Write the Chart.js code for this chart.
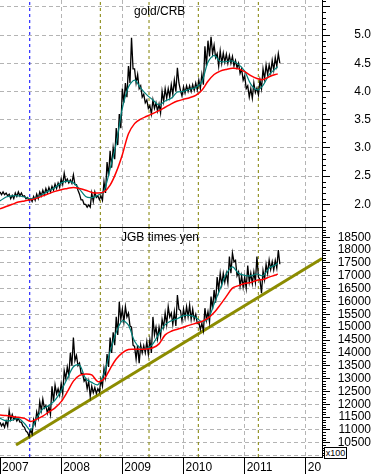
<!DOCTYPE html>
<html><head><meta charset="utf-8">
<script src="https://cdn.jsdelivr.net/npm/chart.js@4.4.1/dist/chart.umd.min.js"></script>
<style>
html,body{margin:0;padding:0;background:#fff;}
#wrap{position:relative;width:371px;height:474px;overflow:hidden;font-family:"Liberation Sans",Arial,sans-serif;}
canvas{position:absolute;left:0;}
#c1{top:0;}
#c2{top:228px;}
.title{position:absolute;font-size:12px;line-height:14px;color:#000;white-space:nowrap;}
#x100{position:absolute;left:324px;top:447px;width:21px;height:10px;border:1px solid #000;font-size:9px;line-height:10px;background:#fff;text-align:center;color:#000;}
</style></head>
<body><div id="wrap">
<canvas id="c1" width="371" height="228"></canvas>
<canvas id="c2" width="371" height="246"></canvas>
<div class="title" style="left:134px;top:4px;">gold/CRB</div>
<div class="title" style="left:121px;top:230px;">JGB times yen</div>
<div id="x100">x100</div>
</div>
<script>
// ---- data ----
const yearLabels = ['2007','2008','2009','2010','2011','20'];
const markerDates = [2007.486, 2008.640, 2009.436, 2010.242, 2011.223];
const markerColors = ['#0000ff','#808000','#808000','#808000','#808000'];

const rawStart = 2007.0, rawStep = 0.05;   // sampling of the price line (years)
const goldHi = [2.22,2.22,2.20,2.18,2.16,2.20,2.22,2.20,2.15,2.12,
 2.10,2.14,2.18,2.22,2.25,2.28,2.30,2.32,2.36,2.38,
 2.45,2.55,2.45,2.43,2.52,2.35,2.18,2.08,2.00,1.99,
 2.20,2.22,2.15,2.15,2.40,2.75,2.95,3.00,3.35,3.60,
 4.05,4.15,4.45,4.95,4.40,4.30,4.10,3.95,3.85,3.75,
 3.85,3.80,3.78,4.00,4.05,4.05,4.12,4.20,4.42,4.02,
 4.08,4.10,4.10,4.12,4.15,4.20,4.30,4.80,4.90,4.97,
 4.82,4.67,4.72,4.68,4.66,4.64,4.62,4.55,4.50,4.40,
 4.28,4.10,4.05,4.15,4.06,4.20,4.40,4.47,4.47,4.55,
 4.60,4.67];
const goldLo = [2.17,2.17,2.15,2.10,2.10,2.14,2.15,2.14,2.10,2.07,
 2.05,2.07,2.10,2.15,2.17,2.20,2.22,2.25,2.28,2.30,
 2.35,2.40,2.38,2.37,2.35,2.25,2.08,2.00,1.95,1.95,
 2.05,2.12,2.08,2.07,2.20,2.50,2.65,2.80,3.05,3.35,
 3.80,3.90,4.15,4.40,4.15,4.05,3.90,3.80,3.70,3.60,
 3.70,3.65,3.62,3.82,3.88,3.90,3.95,4.00,4.15,3.92,
 3.97,4.00,4.00,4.02,4.03,4.05,4.12,4.45,4.62,4.67,
 4.60,4.45,4.50,4.52,4.50,4.50,4.45,4.42,4.32,4.20,
 4.05,3.90,3.88,3.98,3.94,4.05,4.22,4.30,4.33,4.38,
 4.45,4.50];
const jgbHi = [11300,11250,11350,11750,11600,11500,11450,11300,11100,10900,
 11000,11400,11700,12100,12200,11950,11900,12700,12750,12600,
 12800,13300,13450,14000,14600,13900,13600,13200,13000,12900,
 12700,12650,12600,12950,13400,13950,14600,14800,15400,15990,
 15700,15800,15550,15000,14250,14300,14300,14280,14430,14500,
 15400,15000,15000,15300,15550,15800,15550,15600,16250,15650,
 15700,15800,15860,15700,15500,15200,15150,15740,15600,16190,
 16450,16950,17100,17100,17100,17750,17880,17600,17150,17000,
 16950,17400,17100,17150,17750,16850,17200,17450,17620,17550,
 17600,18000];
const jgbLo = [11150,11100,11150,11400,11400,11350,11300,11150,10950,10750,
 10850,11200,11450,11750,11850,11650,11600,12100,12400,12350,
 12400,13000,13100,13500,13700,13500,13200,12900,12600,12300,
 12450,12420,12480,12700,13050,13450,14000,14300,14700,15300,
 15200,15400,15050,14300,13750,13600,14000,14000,13950,14000,
 14700,14550,14650,15000,15100,15400,15100,15050,15700,15250,
 15350,15400,15300,15300,15150,14900,14860,15280,15200,15700,
 15950,16450,16650,16750,16720,17100,17550,17000,16600,16550,
 16520,16750,16700,16750,16950,16320,16850,17100,17250,17230,
 17300,17450];

const maStep = 0.1, maEnd = 2011.54;       // moving averages sampled every 0.1 yr, plus last point
const goldMAshort = [2.06,2.13,2.15,2.15,2.13,2.10,2.12,2.18,2.24,2.30,
 2.38,2.41,2.38,2.27,2.14,2.12,2.16,2.24,2.63,3.08,
 3.70,4.08,4.20,4.06,3.94,3.85,3.76,3.83,3.88,3.99,
 4.00,4.04,4.07,4.17,4.52,4.64,4.53,4.53,4.54,4.48,
 4.36,4.13,4.03,4.11,4.30,4.40,4.44];
const goldMAlong = [1.92,1.96,2.00,2.04,2.06,2.08,2.11,2.15,2.19,2.23,
 2.26,2.28,2.30,2.28,2.25,2.21,2.20,2.22,2.34,2.57,
 2.88,3.25,3.43,3.51,3.56,3.61,3.66,3.72,3.78,3.83,
 3.86,3.89,3.93,4.02,4.18,4.30,4.36,4.39,4.41,4.40,
 4.35,4.28,4.23,4.21,4.26,4.30,4.31];
const jgbMAshort = [11450,11350,11380,11450,11250,11000,11450,11820,11950,12160,
 12530,13000,13460,13530,13000,12850,12760,13200,14050,14800,
 15250,15080,14450,14180,14170,14350,14750,15100,15250,15330,
 15450,15460,15380,15210,15320,15900,16500,17070,17350,17100,
 17020,17000,17070,17000,17300,17420,17490];
const jgbMAlong = [11580,11560,11520,11490,11450,11330,11420,11540,11700,11860,
 12100,12480,12900,13120,13180,13140,12880,12980,13380,13760,
 14000,14130,14140,14140,14150,14200,14350,14700,14840,14920,
 15000,15080,15150,15220,15350,15570,15870,16200,16520,16620,
 16700,16740,16830,16860,16950,17030,17070];

const trendDates = [2007.262, 2012.264];
const trendValues = [10412, 17678];

const xMin = 2007.0, xMax = 2012.264;
const goldMin = 1.598, goldMax = 5.621;
const jgbMin = 9945, jgbMax = 18862;

// ---- build datasets ----
function rawPoints(hi, lo){
  const pts = [];
  for (let i = 0; i < hi.length; i++){
    const t = rawStart + rawStep * i;
    pts.push({x: t, y: hi[i]});
    pts.push({x: t + rawStep / 2, y: lo[i]});
  }
  return pts;
}
function maPoints(vals){
  return vals.map((v, j) => ({x: j === vals.length - 1 ? maEnd : rawStart + maStep * j, y: v}));
}
function markerSets(lo, hi){
  return markerDates.map((d, k) => ({
    data: [{x: d, y: lo}, {x: d, y: hi}],
    borderColor: markerColors[k], borderWidth: 1, borderDash: [3, 3],
    pointRadius: 0, order: 10
  }));
}

const GRID = '#b4b4b4';
function isMajor(v, step){ return Math.abs(v / step - Math.round(v / step)) < 1e-6; }

function minorTickPlugin(step){
  return {
    id: 'minorTicks',
    afterDraw(chart){
      const s = chart.scales.y, ctx = chart.ctx;
      ctx.save(); ctx.strokeStyle = '#000'; ctx.lineWidth = 1; ctx.beginPath();
      s.ticks.forEach(t => {
        if (!isMajor(t.value, step)) {
          const y = Math.round(s.getPixelForValue(t.value)) + 0.5;
          ctx.moveTo(s.left, y); ctx.lineTo(s.left + 4, y);
        }
      });
      ctx.stroke(); ctx.restore();
    }
  };
}

function zeroPad(s){ s.paddingTop = 0; s.paddingBottom = 0; s.paddingLeft = 0; s.paddingRight = 0; }

function xScale(showLabels){
  return {
    type: 'linear', min: xMin, max: xMax,
    ticks: {
      display: showLabels, stepSize: 1, includeBounds: false, autoSkip: false, maxRotation: 0,
      align: 'start', labelOffset: 2, padding: -14, color: '#000',
      font: {family: '"Liberation Sans", Arial, sans-serif', size: 12},
      callback: v => yearLabels[Math.round(v) - 2007]
    },
    grid: {
      color: c => (c.tick && Math.round(c.tick.value) === 2007) ? 'rgba(0,0,0,0)' : GRID,
      drawTicks: showLabels, tickLength: 17, tickColor: '#000', tickBorderDash: [], lineWidth: 1
    },
    border: {display: true, color: '#000', width: 1, dash: [4, 3]},
    afterFit: s => { s.height = showLabels ? 17 : 1; zeroPad(s); }
  };
}

function yScale(min, max, step, major, labelMin, labelMax, fmt, pad){
  return {
    type: 'linear', position: 'right', min, max,
    ticks: {
      stepSize: step, includeBounds: false, autoSkip: false, crossAlign: 'far', padding: pad,
      color: '#000', font: {family: '"Liberation Sans", Arial, sans-serif', size: 12},
      callback: v => (isMajor(v, major) && v >= labelMin && v <= labelMax) ? fmt(v) : ''
    },
    grid: {
      color: c => (c.tick && isMajor(c.tick.value, major)) ? GRID : 'rgba(0,0,0,0)',
      tickColor: c => (c.tick && isMajor(c.tick.value, major)) ? '#000' : 'rgba(0,0,0,0)',
      tickLength: 8, tickBorderDash: [], lineWidth: 1
    },
    border: {display: true, color: '#000', width: 1, dash: [4, 3]},
    afterFit: s => { s.width = 49; zeroPad(s); }
  };
}

const common = {
  responsive: false, animation: false, events: [],
  layout: {padding: 0},
  plugins: {legend: {display: false}, tooltip: {enabled: false}, title: {display: false}},
  elements: {point: {radius: 0}, line: {tension: 0}}
};

new Chart(document.getElementById('c1'), {
  type: 'line',
  data: {datasets: [
    ...markerSets(goldMin, goldMax),
    {data: rawPoints(goldHi, goldLo), borderColor: '#000', borderWidth: 1.3, pointRadius: 0, order: 3},
    {data: maPoints(goldMAshort), borderColor: '#00807a', borderWidth: 1.2, pointRadius: 0, tension: 0.3, order: 2},
    {data: maPoints(goldMAlong), borderColor: '#ff0000', borderWidth: 1.5, pointRadius: 0, tension: 0.3, order: 1}
  ]},
  options: Object.assign({}, common, {
    scales: {
      x: xScale(false),
      y: yScale(goldMin, goldMax, 0.1, 0.5, 1.99, 5.01, v => v.toFixed(1), 20)
    }
  }),
  plugins: [minorTickPlugin(0.5)]
});

new Chart(document.getElementById('c2'), {
  type: 'line',
  data: {datasets: [
    ...markerSets(jgbMin, jgbMax),
    {data: trendDates.map((d, k) => ({x: d, y: trendValues[k]})), borderColor: '#8c8c00', borderWidth: 3, pointRadius: 0, order: 5},
    {data: rawPoints(jgbHi, jgbLo), borderColor: '#000', borderWidth: 1.3, pointRadius: 0, order: 3},
    {data: maPoints(jgbMAshort), borderColor: '#00807a', borderWidth: 1.2, pointRadius: 0, tension: 0.3, order: 2},
    {data: maPoints(jgbMAlong), borderColor: '#ff0000', borderWidth: 1.5, pointRadius: 0, tension: 0.3, order: 1}
  ]},
  options: Object.assign({}, common, {
    scales: {
      x: xScale(true),
      y: yScale(jgbMin, jgbMax, 100, 500, 10499, 18501, v => String(Math.round(v)), 3)
    }
  }),
  plugins: [minorTickPlugin(500)]
});
</script>
</body></html>
